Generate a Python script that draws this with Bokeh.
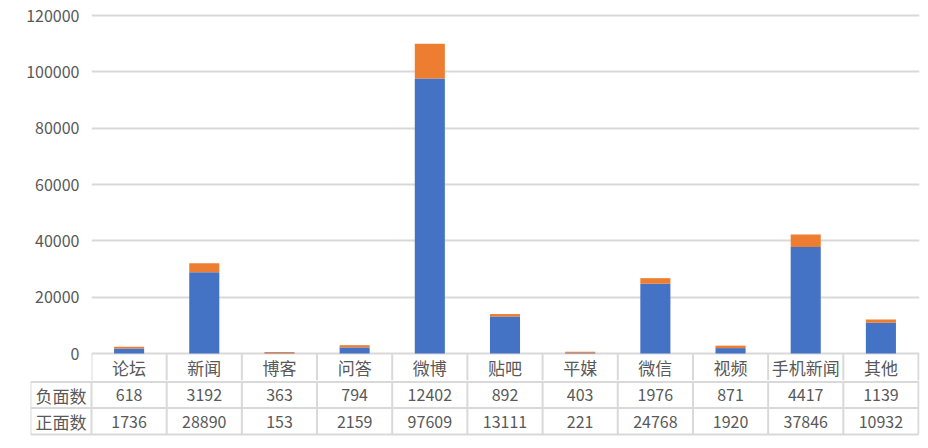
from bokeh.plotting import figure
from bokeh.layouts import column
from bokeh.models import ColumnDataSource, Range1d, FixedTicker, NumeralTickFormatter
from bokeh.core.properties import value
from bokeh.embed import file_html
from bokeh.resources import INLINE

categories = ["论坛", "新闻", "博客", "问答", "微博", "贴吧", "平媒", "微信", "视频", "手机新闻", "其他"]
negative = [618, 3192, 363, 794, 12402, 892, 403, 1976, 871, 4417, 1139]
positive = [1736, 28890, 153, 2159, 97609, 13111, 221, 24768, 1920, 37846, 10932]
row_labels = ["负面数", "正面数"]
y_ticks = [0, 20000, 40000, 60000, 80000, 100000, 120000]

BLUE = "#4472C4"
ORANGE = "#ED7D31"
GRID = "#D9D9D9"
TXT = "#595959"
FONT = "Noto Sans CJK SC"

n = len(categories)
col_px = 827 / n
frame_left, frame_right = 91, 919
k = max(y_ticks) / (353 - 15)  # data units per pixel
SPLIT = 380  # pixel row where the chart canvas ends and the table canvas starts

# ---------------- chart (with category row) ----------------
xs = [i + 0.5 for i in range(n)]
tops = [a + b for a, b in zip(positive, negative)]
src = ColumnDataSource(dict(x=xs, pos=positive, neg=negative, top=tops, cat=categories))

p = figure(width=928, height=SPLIT, output_backend="svg", toolbar_location=None,
           min_border_left=frame_left, min_border_right=928 - frame_right,
           min_border_top=10, min_border_bottom=0)
p.frame_align = False
p.x_range = Range1d(0, (frame_right - frame_left) / col_px)
p.y_range = Range1d(-(SPLIT - 353) * k, (353 - 10) * k)
p.xaxis.visible = False
p.xgrid.visible = False
p.outline_line_color = None
p.yaxis.ticker = FixedTicker(ticks=y_ticks)
p.yaxis.formatter = NumeralTickFormatter(format="0")
p.yaxis.axis_line_color = None
p.yaxis.major_tick_line_color = None
p.yaxis.minor_tick_line_color = None
p.yaxis.major_tick_out = 0
p.yaxis.major_label_standoff = 12
p.yaxis.major_label_text_font = FONT
p.yaxis.major_label_text_font_size = "16px"
p.yaxis.major_label_text_color = TXT
p.ygrid.ticker = FixedTicker(ticks=y_ticks)
p.ygrid.grid_line_color = GRID
p.ygrid.grid_line_width = 2

p.vbar(x="x", width=0.4, bottom=0, top="pos", source=src, color=BLUE, line_color=None)
p.vbar(x="x", width=0.4, bottom="pos", top="top", source=src, color=ORANGE, line_color=None)

vx = list(range(n + 1))
p.segment(x0=vx, y0=[0] * len(vx), x1=vx, y1=[p.y_range.start] * len(vx),
          line_color=GRID, line_width=2)
p.text(x="x", y=-(367 - 353) * k, text="cat", source=src, text_font=value(FONT),
       text_font_size="17px", text_color=TXT, text_align="center", text_baseline="middle")

# ---------------- table rows ----------------
t_left = 30
left_w = (frame_left - t_left) / col_px
TH = 448 - SPLIT
t = figure(width=928, height=TH, output_backend="svg", toolbar_location=None,
           min_border_left=t_left, min_border_right=928 - frame_right,
           min_border_top=0, min_border_bottom=0)
t.frame_align = False
t.x_range = Range1d(-left_w, (frame_right - frame_left) / col_px)
t.y_range = Range1d(0, TH)
t.axis.visible = False
t.grid.visible = False
t.outline_line_color = None

def ty(py):
    return 448 - py

r1, r2, r3 = ty(381.5), ty(407.5), ty(434)
t.segment(x0=vx, y0=[TH] * len(vx), x1=vx, y1=[r3] * len(vx), line_color=GRID, line_width=2)
t.segment(x0=[-left_w], y0=[r1], x1=[-left_w], y1=[r3], line_color=GRID, line_width=2)
t.segment(x0=[-left_w] * 3, y0=[r1, r2, r3], x1=[n] * 3, y1=[r1, r2, r3],
          line_color=GRID, line_width=2)

t.text(x=xs, y=[ty(394.5)] * n, text=[str(v) for v in negative], text_font=value(FONT),
       text_font_size="16px", text_color=TXT, text_align="center", text_baseline="middle")
t.text(x=xs, y=[ty(421)] * n, text=[str(v) for v in positive], text_font=value(FONT),
       text_font_size="16px", text_color=TXT, text_align="center", text_baseline="middle")
t.text(x=[-left_w / 2] * 2, y=[ty(394.5), ty(421)], text=row_labels, text_font=value(FONT),
       text_font_size="17px", text_color=TXT, text_align="center", text_baseline="middle")

layout = column(p, t, spacing=0)
open("out.html", "w").write(file_html(layout, INLINE))
